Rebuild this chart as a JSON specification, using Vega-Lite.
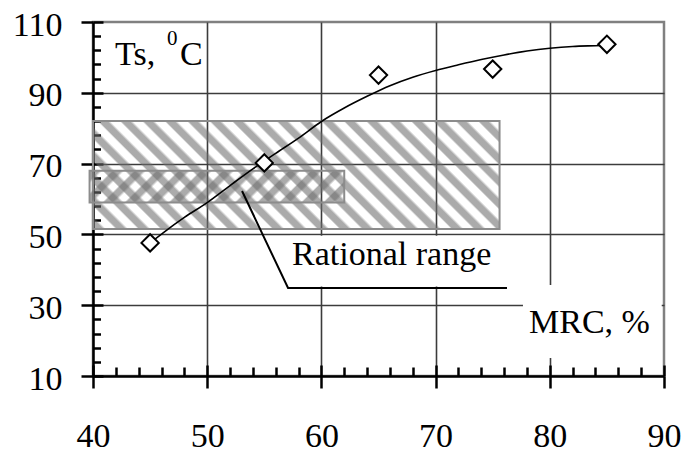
{
  "$schema": "https://vega.github.io/schema/vega-lite/v6.json",
  "width": 571,
  "height": 354,
  "autosize": "none",
  "padding": {"left": 93, "top": 22, "right": 20, "bottom": 80},
  "background": "white",
  "config": {
    "view": {"stroke": "#808080", "strokeWidth": 2.5},
    "font": "Liberation Serif"
  },
  "resolve": {"axis": {"x": "independent", "y": "independent"}},
  "layer": [
    {
      "data": {"values": [{"x1": 40, "x2": 75.6, "y1": 51.5, "y2": 82}]},
      "mark": {
        "type": "rect",
        "stroke": "#8c8c8c",
        "strokeWidth": 2,
        "fill": {
          "gradient": "linear",
          "x1": -0.2481, "y1": 0.0659, "x2": 0.9341, "y2": -0.2481,
          "stops": [
            {"offset": 0, "color": "rgba(110,110,110,0)"}, {"offset": 0.0043, "color": "rgba(110,110,110,0.58)"}, {"offset": 0.0196, "color": "rgba(110,110,110,0.58)"}, {"offset": 0.0261, "color": "rgba(110,110,110,0)"},
            {"offset": 0.0435, "color": "rgba(110,110,110,0)"}, {"offset": 0.0478, "color": "rgba(110,110,110,0.58)"}, {"offset": 0.0631, "color": "rgba(110,110,110,0.58)"}, {"offset": 0.0696, "color": "rgba(110,110,110,0)"},
            {"offset": 0.087, "color": "rgba(110,110,110,0)"}, {"offset": 0.0913, "color": "rgba(110,110,110,0.58)"}, {"offset": 0.1066, "color": "rgba(110,110,110,0.58)"}, {"offset": 0.1131, "color": "rgba(110,110,110,0)"},
            {"offset": 0.1304, "color": "rgba(110,110,110,0)"}, {"offset": 0.1347, "color": "rgba(110,110,110,0.58)"}, {"offset": 0.15, "color": "rgba(110,110,110,0.58)"}, {"offset": 0.1565, "color": "rgba(110,110,110,0)"},
            {"offset": 0.1739, "color": "rgba(110,110,110,0)"}, {"offset": 0.1782, "color": "rgba(110,110,110,0.58)"}, {"offset": 0.1935, "color": "rgba(110,110,110,0.58)"}, {"offset": 0.2, "color": "rgba(110,110,110,0)"},
            {"offset": 0.2174, "color": "rgba(110,110,110,0)"}, {"offset": 0.2217, "color": "rgba(110,110,110,0.58)"}, {"offset": 0.237, "color": "rgba(110,110,110,0.58)"}, {"offset": 0.2435, "color": "rgba(110,110,110,0)"},
            {"offset": 0.2609, "color": "rgba(110,110,110,0)"}, {"offset": 0.2652, "color": "rgba(110,110,110,0.58)"}, {"offset": 0.2805, "color": "rgba(110,110,110,0.58)"}, {"offset": 0.287, "color": "rgba(110,110,110,0)"},
            {"offset": 0.3043, "color": "rgba(110,110,110,0)"}, {"offset": 0.3086, "color": "rgba(110,110,110,0.58)"}, {"offset": 0.3239, "color": "rgba(110,110,110,0.58)"}, {"offset": 0.3304, "color": "rgba(110,110,110,0)"},
            {"offset": 0.3478, "color": "rgba(110,110,110,0)"}, {"offset": 0.3521, "color": "rgba(110,110,110,0.58)"}, {"offset": 0.3674, "color": "rgba(110,110,110,0.58)"}, {"offset": 0.3739, "color": "rgba(110,110,110,0)"},
            {"offset": 0.3913, "color": "rgba(110,110,110,0)"}, {"offset": 0.3956, "color": "rgba(110,110,110,0.58)"}, {"offset": 0.4109, "color": "rgba(110,110,110,0.58)"}, {"offset": 0.4174, "color": "rgba(110,110,110,0)"},
            {"offset": 0.4348, "color": "rgba(110,110,110,0)"}, {"offset": 0.4391, "color": "rgba(110,110,110,0.58)"}, {"offset": 0.4544, "color": "rgba(110,110,110,0.58)"}, {"offset": 0.4609, "color": "rgba(110,110,110,0)"},
            {"offset": 0.4783, "color": "rgba(110,110,110,0)"}, {"offset": 0.4826, "color": "rgba(110,110,110,0.58)"}, {"offset": 0.4979, "color": "rgba(110,110,110,0.58)"}, {"offset": 0.5044, "color": "rgba(110,110,110,0)"},
            {"offset": 0.5217, "color": "rgba(110,110,110,0)"}, {"offset": 0.526, "color": "rgba(110,110,110,0.58)"}, {"offset": 0.5413, "color": "rgba(110,110,110,0.58)"}, {"offset": 0.5478, "color": "rgba(110,110,110,0)"},
            {"offset": 0.5652, "color": "rgba(110,110,110,0)"}, {"offset": 0.5695, "color": "rgba(110,110,110,0.58)"}, {"offset": 0.5848, "color": "rgba(110,110,110,0.58)"}, {"offset": 0.5913, "color": "rgba(110,110,110,0)"},
            {"offset": 0.6087, "color": "rgba(110,110,110,0)"}, {"offset": 0.613, "color": "rgba(110,110,110,0.58)"}, {"offset": 0.6283, "color": "rgba(110,110,110,0.58)"}, {"offset": 0.6348, "color": "rgba(110,110,110,0)"},
            {"offset": 0.6522, "color": "rgba(110,110,110,0)"}, {"offset": 0.6565, "color": "rgba(110,110,110,0.58)"}, {"offset": 0.6718, "color": "rgba(110,110,110,0.58)"}, {"offset": 0.6783, "color": "rgba(110,110,110,0)"},
            {"offset": 0.6957, "color": "rgba(110,110,110,0)"}, {"offset": 0.7, "color": "rgba(110,110,110,0.58)"}, {"offset": 0.7153, "color": "rgba(110,110,110,0.58)"}, {"offset": 0.7218, "color": "rgba(110,110,110,0)"},
            {"offset": 0.7391, "color": "rgba(110,110,110,0)"}, {"offset": 0.7434, "color": "rgba(110,110,110,0.58)"}, {"offset": 0.7587, "color": "rgba(110,110,110,0.58)"}, {"offset": 0.7652, "color": "rgba(110,110,110,0)"},
            {"offset": 0.7826, "color": "rgba(110,110,110,0)"}, {"offset": 0.7869, "color": "rgba(110,110,110,0.58)"}, {"offset": 0.8022, "color": "rgba(110,110,110,0.58)"}, {"offset": 0.8087, "color": "rgba(110,110,110,0)"},
            {"offset": 0.8261, "color": "rgba(110,110,110,0)"}, {"offset": 0.8304, "color": "rgba(110,110,110,0.58)"}, {"offset": 0.8457, "color": "rgba(110,110,110,0.58)"}, {"offset": 0.8522, "color": "rgba(110,110,110,0)"},
            {"offset": 0.8696, "color": "rgba(110,110,110,0)"}, {"offset": 0.8739, "color": "rgba(110,110,110,0.58)"}, {"offset": 0.8892, "color": "rgba(110,110,110,0.58)"}, {"offset": 0.8957, "color": "rgba(110,110,110,0)"},
            {"offset": 0.913, "color": "rgba(110,110,110,0)"}, {"offset": 0.9173, "color": "rgba(110,110,110,0.58)"}, {"offset": 0.9326, "color": "rgba(110,110,110,0.58)"}, {"offset": 0.9391, "color": "rgba(110,110,110,0)"},
            {"offset": 0.9565, "color": "rgba(110,110,110,0)"}, {"offset": 0.9608, "color": "rgba(110,110,110,0.58)"}, {"offset": 0.9761, "color": "rgba(110,110,110,0.58)"}, {"offset": 0.9826, "color": "rgba(110,110,110,0)"},
            {"offset": 1, "color": "rgba(110,110,110,0)"}
          ]
        }
      },
      "encoding": {
        "x": {
          "field": "x1", "type": "quantitative",
          "scale": {"domain": [40, 90], "nice": false, "zero": false},
          "axis": {
            "orient": "bottom", "title": null, "values": [40, 50, 60, 70, 80, 90],
            "grid": true, "gridWidth": 1.6,
            "gridColor": {"condition": {"test": "datum.value == 90 || datum.value == 40", "value": "transparent"}, "value": "#3c3c3c"},
            "domainColor": "black", "domainWidth": 2.5,
            "tickColor": "black", "tickWidth": 2.5, "tickSize": 12,
            "labelFont": "Liberation Serif", "labelFontSize": 34, "labelColor": "black",
            "labelPadding": 31, "labelFlush": false, "labelOverlap": false, "labelBound": false
          }
        },
        "x2": {"field": "x2"},
        "y": {
          "field": "y1", "type": "quantitative",
          "scale": {"domain": [10, 110], "nice": false, "zero": false},
          "axis": {
            "orient": "left", "title": null, "values": [10, 30, 50, 70, 90, 110],
            "grid": true, "gridWidth": 1.6,
            "gridColor": {"condition": {"test": "datum.value == 110 || datum.value == 10", "value": "transparent"}, "value": "#3c3c3c"},
            "domainColor": "black", "domainWidth": 2.5,
            "tickColor": "black", "tickWidth": 2.5, "tickSize": 12,
            "labelFont": "Liberation Serif", "labelFontSize": 34, "labelColor": "black",
            "labelPadding": 19, "labelOffset": 3, "labelFlush": false, "labelOverlap": false, "labelBound": false
          }
        },
        "y2": {"field": "y2"}
      }
    },
    {
      "data": {"values": [{"x1": 39.7, "x2": 62, "y1": 59, "y2": 68}]},
      "mark": {
        "type": "rect",
        "stroke": "#8c8c8c",
        "strokeWidth": 2,
        "fill": {
          "gradient": "linear",
          "x1": 0, "y1": 0, "x2": 1.1079, "y2": 0.1388,
          "stops": [
            {"offset": 0, "color": "rgba(110,110,110,0)"}, {"offset": 0.0077, "color": "rgba(110,110,110,0.58)"}, {"offset": 0.0346, "color": "rgba(110,110,110,0.58)"}, {"offset": 0.0462, "color": "rgba(110,110,110,0)"},
            {"offset": 0.0769, "color": "rgba(110,110,110,0)"}, {"offset": 0.0846, "color": "rgba(110,110,110,0.58)"}, {"offset": 0.1115, "color": "rgba(110,110,110,0.58)"}, {"offset": 0.1231, "color": "rgba(110,110,110,0)"},
            {"offset": 0.1538, "color": "rgba(110,110,110,0)"}, {"offset": 0.1615, "color": "rgba(110,110,110,0.58)"}, {"offset": 0.1884, "color": "rgba(110,110,110,0.58)"}, {"offset": 0.2, "color": "rgba(110,110,110,0)"},
            {"offset": 0.2308, "color": "rgba(110,110,110,0)"}, {"offset": 0.2385, "color": "rgba(110,110,110,0.58)"}, {"offset": 0.2654, "color": "rgba(110,110,110,0.58)"}, {"offset": 0.277, "color": "rgba(110,110,110,0)"},
            {"offset": 0.3077, "color": "rgba(110,110,110,0)"}, {"offset": 0.3154, "color": "rgba(110,110,110,0.58)"}, {"offset": 0.3423, "color": "rgba(110,110,110,0.58)"}, {"offset": 0.3539, "color": "rgba(110,110,110,0)"},
            {"offset": 0.3846, "color": "rgba(110,110,110,0)"}, {"offset": 0.3923, "color": "rgba(110,110,110,0.58)"}, {"offset": 0.4192, "color": "rgba(110,110,110,0.58)"}, {"offset": 0.4308, "color": "rgba(110,110,110,0)"},
            {"offset": 0.4615, "color": "rgba(110,110,110,0)"}, {"offset": 0.4692, "color": "rgba(110,110,110,0.58)"}, {"offset": 0.4961, "color": "rgba(110,110,110,0.58)"}, {"offset": 0.5077, "color": "rgba(110,110,110,0)"},
            {"offset": 0.5385, "color": "rgba(110,110,110,0)"}, {"offset": 0.5462, "color": "rgba(110,110,110,0.58)"}, {"offset": 0.5731, "color": "rgba(110,110,110,0.58)"}, {"offset": 0.5847, "color": "rgba(110,110,110,0)"},
            {"offset": 0.6154, "color": "rgba(110,110,110,0)"}, {"offset": 0.6231, "color": "rgba(110,110,110,0.58)"}, {"offset": 0.65, "color": "rgba(110,110,110,0.58)"}, {"offset": 0.6616, "color": "rgba(110,110,110,0)"},
            {"offset": 0.6923, "color": "rgba(110,110,110,0)"}, {"offset": 0.7, "color": "rgba(110,110,110,0.58)"}, {"offset": 0.7269, "color": "rgba(110,110,110,0.58)"}, {"offset": 0.7385, "color": "rgba(110,110,110,0)"},
            {"offset": 0.7692, "color": "rgba(110,110,110,0)"}, {"offset": 0.7769, "color": "rgba(110,110,110,0.58)"}, {"offset": 0.8038, "color": "rgba(110,110,110,0.58)"}, {"offset": 0.8154, "color": "rgba(110,110,110,0)"},
            {"offset": 0.8462, "color": "rgba(110,110,110,0)"}, {"offset": 0.8539, "color": "rgba(110,110,110,0.58)"}, {"offset": 0.8808, "color": "rgba(110,110,110,0.58)"}, {"offset": 0.8924, "color": "rgba(110,110,110,0)"},
            {"offset": 0.9231, "color": "rgba(110,110,110,0)"}, {"offset": 0.9308, "color": "rgba(110,110,110,0.58)"}, {"offset": 0.9577, "color": "rgba(110,110,110,0.58)"}, {"offset": 0.9693, "color": "rgba(110,110,110,0)"},
            {"offset": 1, "color": "rgba(110,110,110,0)"}
          ]
        }
      },
      "encoding": {
        "x": {"field": "x1", "type": "quantitative", "axis": null},
        "x2": {"field": "x2"},
        "y": {"field": "y1", "type": "quantitative", "axis": null},
        "y2": {"field": "y2"}
      }
    },
    {
      "data": {"values": [
        {"mrc": 45, "ts": 47.6}, {"mrc": 46.2, "ts": 50.6}, {"mrc": 48, "ts": 54.8},
        {"mrc": 50, "ts": 59.0}, {"mrc": 52, "ts": 63.8}, {"mrc": 54, "ts": 68.5},
        {"mrc": 56, "ts": 72.9}, {"mrc": 58, "ts": 77.2}, {"mrc": 60, "ts": 81.9},
        {"mrc": 62, "ts": 85.7}, {"mrc": 64, "ts": 89.0}, {"mrc": 66, "ts": 92.0},
        {"mrc": 68, "ts": 94.4}, {"mrc": 70, "ts": 96.3}, {"mrc": 72, "ts": 97.9},
        {"mrc": 74, "ts": 99.4}, {"mrc": 76, "ts": 100.7}, {"mrc": 78, "ts": 101.8},
        {"mrc": 80, "ts": 102.6}, {"mrc": 82, "ts": 103.1}, {"mrc": 84, "ts": 103.3},
        {"mrc": 85, "ts": 103.4}
      ]},
      "mark": {"type": "line", "color": "black", "strokeWidth": 1.6, "interpolate": "monotone"},
      "encoding": {
        "x": {
          "field": "mrc", "type": "quantitative",
          "axis": {
            "orient": "bottom", "title": null, "labels": false, "domain": false, "grid": false,
            "values": [40, 42, 44, 46, 48, 50, 52, 54, 56, 58, 60, 62, 64, 66, 68, 70, 72, 74, 76, 78, 80, 82, 84, 86, 88, 90],
            "tickColor": "black", "tickWidth": 2.5,
            "tickSize": {"condition": {"test": "datum.value % 10 == 0", "value": -11}, "value": -9}
          }
        },
        "y": {
          "field": "ts", "type": "quantitative",
          "axis": {
            "orient": "left", "title": null, "labels": false, "domain": false, "grid": false,
            "values": [10, 14, 18, 22, 26, 30, 34, 38, 42, 46, 50, 54, 58, 62, 66, 70, 74, 78, 82, 86, 90, 94, 98, 102, 106, 110],
            "tickColor": "black", "tickWidth": 2.5,
            "tickSize": {"condition": {"test": "datum.value % 20 == 10", "value": -10}, "value": -7.5}
          }
        }
      }
    },
    {
      "data": {"values": [
        {"mrc": 45, "ts": 47.6}, {"mrc": 55, "ts": 70.2}, {"mrc": 65, "ts": 95.0},
        {"mrc": 75, "ts": 96.7}, {"mrc": 85, "ts": 103.7}
      ]},
      "mark": {"type": "point", "shape": "diamond", "size": 300, "filled": true, "fill": "white", "stroke": "black", "strokeWidth": 2, "opacity": 1},
      "encoding": {
        "x": {"field": "mrc", "type": "quantitative", "axis": null},
        "y": {"field": "ts", "type": "quantitative", "axis": null}
      }
    },
    {
      "data": {"values": [
        {"x1": 57.25, "x2": 76.5, "y1": 35.3, "y2": 49.6},
        {"x1": 77.65, "x2": 89.8, "y1": 15.1, "y2": 35.7}
      ]},
      "mark": {"type": "rect", "fill": "white", "strokeWidth": 0},
      "encoding": {
        "x": {"field": "x1", "type": "quantitative", "axis": null},
        "x2": {"field": "x2"},
        "y": {"field": "y1", "type": "quantitative", "axis": null},
        "y2": {"field": "y2"}
      }
    },
    {
      "data": {"values": [
        {"x": 53.05, "y": 62.26, "o": 0},
        {"x": 57.08, "y": 34.86, "o": 1},
        {"x": 76.25, "y": 34.86, "o": 2}
      ]},
      "mark": {"type": "line", "color": "black", "strokeWidth": 2},
      "encoding": {
        "x": {"field": "x", "type": "quantitative", "axis": null},
        "y": {"field": "y", "type": "quantitative", "axis": null},
        "order": {"field": "o"}
      }
    },
    {
      "data": {"values": [
        {"x": 41.93, "y": 97.85, "label": "Ts,"},
        {"x": 47.62, "y": 97.85, "label": "C"},
        {"x": 57.43, "y": 41.36, "label": "Rational range"},
        {"x": 78.18, "y": 22.15, "label": "MRC, %"}
      ]},
      "mark": {"type": "text", "align": "left", "baseline": "alphabetic", "font": "Liberation Serif", "fontSize": 34, "color": "black"},
      "encoding": {
        "x": {"field": "x", "type": "quantitative", "axis": null},
        "y": {"field": "y", "type": "quantitative", "axis": null},
        "text": {"field": "label"}
      }
    },
    {
      "data": {"values": [{"x": 46.48, "y": 103.5, "label": "0"}]},
      "mark": {"type": "text", "align": "left", "baseline": "alphabetic", "font": "Liberation Serif", "fontSize": 21, "color": "black"},
      "encoding": {
        "x": {"field": "x", "type": "quantitative", "axis": null},
        "y": {"field": "y", "type": "quantitative", "axis": null},
        "text": {"field": "label"}
      }
    }
  ]
}
